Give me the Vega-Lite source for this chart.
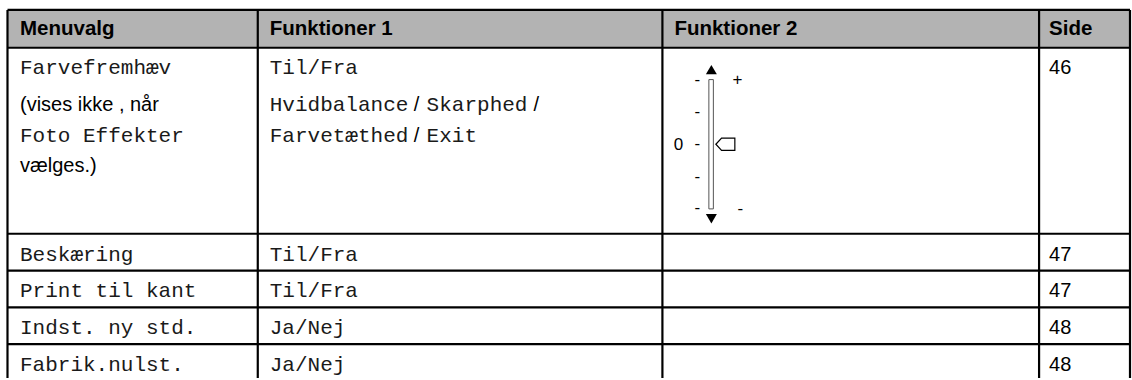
{
  "$schema": "https://vega.github.io/schema/vega-lite/v6.json",
  "width": 1132,
  "height": 380,
  "padding": 0,
  "autosize": {"type": "fit", "contains": "padding"},
  "background": "white",
  "config": {"view": {"stroke": null}},
  "datasets": {
    "header": [{"x1": 7.5, "x2": 1131, "y1": 10, "y2": 48}],
    "borders": [
      {"x1": 7.5, "x2": 1131, "y1": 10, "y2": 10},
      {"x1": 7.5, "x2": 1131, "y1": 48, "y2": 48},
      {"x1": 7.5, "x2": 1131, "y1": 235, "y2": 235},
      {"x1": 7.5, "x2": 1131, "y1": 272, "y2": 272},
      {"x1": 7.5, "x2": 1131, "y1": 309, "y2": 309},
      {"x1": 7.5, "x2": 1131, "y1": 346, "y2": 346},
      {"x1": 7.5, "x2": 7.5, "y1": 10, "y2": 380},
      {"x1": 258, "x2": 258, "y1": 10, "y2": 380},
      {"x1": 663, "x2": 663, "y1": 10, "y2": 380},
      {"x1": 1040, "x2": 1040, "y1": 10, "y2": 380},
      {"x1": 1131, "x2": 1131, "y1": 10, "y2": 380}
    ],
    "texts": [
      {"kind": "header", "text": "Menuvalg", "x": 20, "y": 35},
      {"kind": "header", "text": "Funktioner 1", "x": 270, "y": 35},
      {"kind": "header", "text": "Funktioner 2", "x": 675, "y": 35},
      {"kind": "header", "text": "Side", "x": 1050, "y": 35},
      {"kind": "mono", "text": "Farvefremhæv", "x": 20, "y": 74},
      {"kind": "sans", "text": "(vises ikke , når", "x": 20, "y": 112},
      {"kind": "mono", "text": "Foto Effekter", "x": 20, "y": 143},
      {"kind": "sans", "text": "vælges.)", "x": 20, "y": 173},
      {"kind": "mono", "text": "Til/Fra", "x": 270, "y": 74},
      {"kind": "mono", "text": "Hvidbalance", "x": 270, "y": 112},
      {"kind": "sans", "text": "/", "x": 414, "y": 112},
      {"kind": "mono", "text": "Skarphed", "x": 427, "y": 112},
      {"kind": "sans", "text": "/", "x": 534, "y": 112},
      {"kind": "mono", "text": "Farvetæthed", "x": 270, "y": 143},
      {"kind": "sans", "text": "/", "x": 414, "y": 143},
      {"kind": "mono", "text": "Exit", "x": 427, "y": 143},
      {"kind": "sans", "text": "46", "x": 1050, "y": 74},
      {"kind": "mono", "text": "Beskæring", "x": 20, "y": 262},
      {"kind": "mono", "text": "Til/Fra", "x": 270, "y": 262},
      {"kind": "sans", "text": "47", "x": 1050, "y": 262},
      {"kind": "mono", "text": "Print til kant", "x": 20, "y": 299},
      {"kind": "mono", "text": "Til/Fra", "x": 270, "y": 299},
      {"kind": "sans", "text": "47", "x": 1050, "y": 299},
      {"kind": "mono", "text": "Indst. ny std.", "x": 20, "y": 336},
      {"kind": "mono", "text": "Ja/Nej", "x": 270, "y": 336},
      {"kind": "sans", "text": "48", "x": 1050, "y": 336},
      {"kind": "mono", "text": "Fabrik.nulst.", "x": 20, "y": 373},
      {"kind": "mono", "text": "Ja/Nej", "x": 270, "y": 373},
      {"kind": "sans", "text": "48", "x": 1050, "y": 373},
      {"kind": "tick", "text": "-", "x": 698, "y": 80},
      {"kind": "tick", "text": "-", "x": 698, "y": 113},
      {"kind": "tick", "text": "-", "x": 698, "y": 145},
      {"kind": "tick", "text": "-", "x": 698, "y": 178},
      {"kind": "tick", "text": "-", "x": 698, "y": 209},
      {"kind": "tick", "text": "-", "x": 741, "y": 210},
      {"kind": "tick", "text": "+", "x": 738, "y": 80},
      {"kind": "tick", "text": "0", "x": 679, "y": 146}
    ],
    "bar": [{"x1": 709.5, "x2": 714, "y1": 80, "y2": 210}],
    "markers": [
      {"kind": "up", "x": 712, "y": 70},
      {"kind": "down", "x": 712, "y": 220},
      {"kind": "knob", "x": 726, "y": 145}
    ]
  },
  "layer": [
    {
      "data": {"name": "header"},
      "mark": {"type": "rect", "fill": "#b3b3b3"},
      "encoding": {
        "x": {"field": "x1", "type": "quantitative", "scale": {"domain": [0, 1132], "nice": false, "zero": false}, "axis": null},
        "x2": {"field": "x2"},
        "y": {"field": "y1", "type": "quantitative", "scale": {"domain": [0, 380], "nice": false, "zero": false, "reverse": true}, "axis": null},
        "y2": {"field": "y2"}
      }
    },
    {
      "data": {"name": "bar"},
      "mark": {"type": "rect", "fill": "white", "stroke": "#555555", "strokeWidth": 1},
      "encoding": {
        "x": {"field": "x1", "type": "quantitative"},
        "x2": {"field": "x2"},
        "y": {"field": "y1", "type": "quantitative"},
        "y2": {"field": "y2"}
      }
    },
    {
      "data": {"name": "borders"},
      "mark": {"type": "rule", "color": "black", "strokeWidth": 2.2},
      "encoding": {
        "x": {"field": "x1", "type": "quantitative"},
        "x2": {"field": "x2"},
        "y": {"field": "y1", "type": "quantitative"},
        "y2": {"field": "y2"}
      }
    },
    {
      "data": {"name": "texts"},
      "transform": [{"filter": "datum.kind === 'header'"}],
      "mark": {"type": "text", "align": "left", "baseline": "alphabetic", "font": "Liberation Sans", "fontWeight": "bold", "fontSize": 20.5, "color": "black"},
      "encoding": {
        "x": {"field": "x", "type": "quantitative"},
        "y": {"field": "y", "type": "quantitative"},
        "text": {"field": "text"}
      }
    },
    {
      "data": {"name": "texts"},
      "transform": [{"filter": "datum.kind === 'mono'"}],
      "mark": {"type": "text", "align": "left", "baseline": "alphabetic", "font": "Liberation Mono", "fontSize": 21, "color": "#1a1a1a"},
      "encoding": {
        "x": {"field": "x", "type": "quantitative"},
        "y": {"field": "y", "type": "quantitative"},
        "text": {"field": "text"}
      }
    },
    {
      "data": {"name": "texts"},
      "transform": [{"filter": "datum.kind === 'sans'"}],
      "mark": {"type": "text", "align": "left", "baseline": "alphabetic", "font": "Liberation Sans", "fontSize": 20, "color": "black"},
      "encoding": {
        "x": {"field": "x", "type": "quantitative"},
        "y": {"field": "y", "type": "quantitative"},
        "text": {"field": "text"}
      }
    },
    {
      "data": {"name": "texts"},
      "transform": [{"filter": "datum.kind === 'tick'"}],
      "mark": {"type": "text", "align": "center", "baseline": "middle", "font": "Liberation Sans", "fontSize": 17, "color": "black"},
      "encoding": {
        "x": {"field": "x", "type": "quantitative"},
        "y": {"field": "y", "type": "quantitative"},
        "text": {"field": "text"}
      }
    },
    {
      "data": {"name": "markers"},
      "transform": [{"filter": "datum.kind === 'up'"}],
      "mark": {"type": "point", "shape": "triangle-up", "filled": true, "color": "black", "size": 120, "opacity": 1},
      "encoding": {
        "x": {"field": "x", "type": "quantitative"},
        "y": {"field": "y", "type": "quantitative"}
      }
    },
    {
      "data": {"name": "markers"},
      "transform": [{"filter": "datum.kind === 'down'"}],
      "mark": {"type": "point", "shape": "triangle-down", "filled": true, "color": "black", "size": 120, "opacity": 1},
      "encoding": {
        "x": {"field": "x", "type": "quantitative"},
        "y": {"field": "y", "type": "quantitative"}
      }
    },
    {
      "data": {"name": "markers"},
      "transform": [{"filter": "datum.kind === 'knob'"}],
      "mark": {"type": "point", "shape": "M -1 0 L -0.4 -0.65 L 1 -0.65 L 1 0.65 L -0.4 0.65 Z", "filled": false, "stroke": "black", "strokeWidth": 1.2, "fill": "white", "size": 360, "opacity": 1},
      "encoding": {
        "x": {"field": "x", "type": "quantitative"},
        "y": {"field": "y", "type": "quantitative"}
      }
    }
  ]
}
